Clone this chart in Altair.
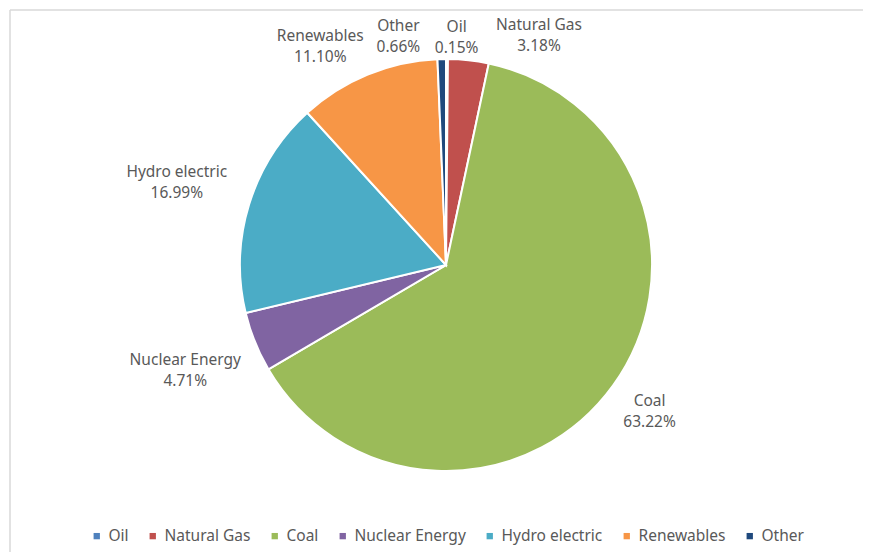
import math
import altair as alt
import pandas as pd

categories = ["Oil", "Natural Gas", "Coal", "Nuclear Energy", "Hydro electric", "Renewables", "Other"]
shares = [0.15, 3.18, 63.22, 4.71, 16.99, 11.10, 0.66]
colors = ["#4F81BD", "#C0504D", "#9BBB59", "#8064A2", "#4BACC6", "#F79646", "#1F497D"]

FONT = "Noto Sans"
R = 206
GAP_X = 17
GAP_Y = -1
CHAR_W = 8.0
LINE_H = 21
PAD = 18

total = sum(shares)
labels = [f"{c}\n{v:.2f}%" for c, v in zip(categories, shares)]

# mid angles (0 at 12 o'clock, clockwise), wrapped to (-pi, pi]
mids = []
cum = 0.0
for v in shares:
    m = (cum + v / 2) / total * 2 * math.pi
    if m > math.pi:
        m -= 2 * math.pi
    mids.append(m)
    cum += v

widths = [max(len(s) for s in lab.split("\n")) * CHAR_W for lab in labels]
heights = [2 * LINE_H for _ in labels]


def place(th, w, h):
    r = R + abs(math.sin(th)) * (w / 2 + GAP_X) + abs(math.cos(th)) * (h / 2 + GAP_Y)
    return r * math.sin(th), -r * math.cos(th), r


theta = list(mids)
order = sorted(range(len(theta)), key=lambda i: theta[i])
step = math.radians(0.2)
for _ in range(3000):
    moved = False
    for a, b in zip(order[:-1], order[1:]):
        xa, ya, _ = place(theta[a], widths[a], heights[a])
        xb, yb, _ = place(theta[b], widths[b], heights[b])
        if abs(xa - xb) < (widths[a] + widths[b]) / 2 + PAD and abs(ya - yb) < (heights[a] + heights[b]) / 2:
            theta[a] -= step
            theta[b] += step
            moved = True
    if not moved:
        break

lab_r = [place(t, w, h)[2] for t, w, h in zip(theta, widths, heights)]

df = pd.DataFrame({
    "idx": list(range(len(categories))),
    "category": categories,
    "share": shares,
    "label": labels,
    "lab_theta": theta,
    "lab_r": lab_r,
})

color = alt.Color(
    "category:N",
    scale=alt.Scale(domain=categories, range=colors),
    sort=categories,
    legend=alt.Legend(
        title=None,
        orient="none",
        legendX=60,
        legendY=520,
        direction="horizontal",
        symbolType="square",
        symbolSize=40,
        symbolStrokeWidth=0,
        labelFont=FONT,
        labelFontSize=15.5,
        labelColor="#595959",
        columnPadding=16,
        labelOffset=4,
    ),
)

pie = alt.Chart(df).mark_arc(radius=R, stroke="white", strokeWidth=2).encode(
    theta=alt.Theta("share:Q", stack=True),
    color=color,
    order=alt.Order("idx:Q"),
)

text = alt.Chart(df).transform_calculate(
    lines="split(datum.label, '\\n')"
).mark_text(
    font=FONT, fontSize=15.5, color="#595959", lineHeight=LINE_H,
    align="center", baseline="middle", dy=-LINE_H / 2,
).encode(
    theta=alt.Theta("lab_theta:Q", scale=None),
    radius=alt.Radius("lab_r:Q", scale=None),
    text=alt.Text("lines:N"),
)

frame_df = pd.DataFrame({"a": [0]})
top_rule = alt.Chart(frame_df).mark_rule(color="#D9D9D9", strokeWidth=1.5).encode(
    x=alt.value(-19), x2=alt.value(842), y=alt.value(2)
)
left_rule = alt.Chart(frame_df).mark_rule(color="#D9D9D9", strokeWidth=1.5).encode(
    x=alt.value(-19), y=alt.value(2), y2=alt.value(552)
)

chart = alt.layer(top_rule, left_rule, pie, text).resolve_scale(
    theta="independent", radius="independent"
).properties(
    width=834,
    height=514,
    autosize=alt.AutoSizeParams(type="none"),
    padding={"left": 21, "top": 0, "right": 0, "bottom": 30},
    background="white",
).configure_view(stroke=None)

chart.save("out.html", embed_options={"renderer": "svg", "actions": False})
